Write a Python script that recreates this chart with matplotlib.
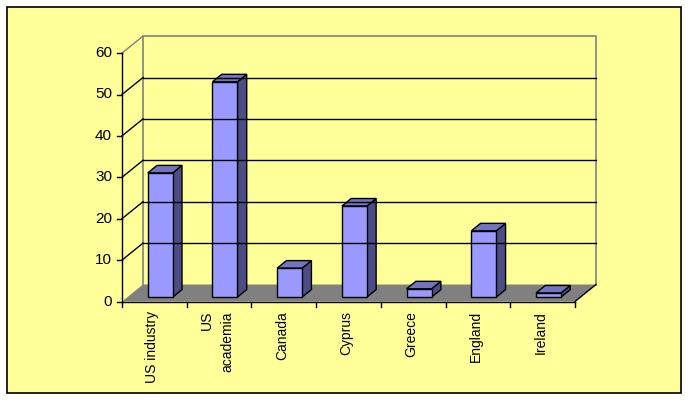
import numpy as np
import matplotlib
matplotlib.use("Agg")
import matplotlib.pyplot as plt
from matplotlib.patches import Polygon, Rectangle

plt.rcParams['font.family'] = ['Liberation Sans', 'DejaVu Sans']

# data
categories = ["US industry", "US\nacademia", "Canada", "Cyprus", "Greece", "England", "Ireland"]
values = [30, 52, 7, 22, 2, 16, 1]
yticks = [0, 10, 20, 30, 40, 50, 60]

# layout of the fake 3d box, in pixels
x0, x1 = 122, 575          # front floor edge
y0 = 301.5                 # front value 0
px_per_unit = 4.14         # 41.4 px per 10
ddx, ddy = 21, 17          # full depth offset
cat_w = (x1 - x0) / len(categories)

front_c = "#9999ff"
top_c = "#7373c0"
side_c = "#4d4d86"


def proj(x, v, d):
    """screen point for front-x, value, depth fraction"""
    return (x + ddx * d, y0 - v * px_per_unit - ddy * d)


fig = plt.figure(figsize=(6.89, 4.00), dpi=100)
ax = fig.add_axes([0, 0, 1, 1])
ax.set_xlim(0, 689)
ax.set_ylim(400, 0)
ax.axis("off")

# chart area
ax.add_patch(Rectangle((7, 7), 674, 386, facecolor="#ffff99", edgecolor="black", lw=1.2))

vmax = yticks[-1]
# back wall outline
bl = proj(x0, 0, 1)
tl = proj(x0, vmax, 1)
tr = proj(x1, vmax, 1)
br = proj(x1, 0, 1)
ax.plot([bl[0], tl[0], tr[0], br[0]], [bl[1], tl[1], tr[1], br[1]], color="#808080", lw=1.2)

# gridlines on back wall and side
for v in yticks[1:]:
    c = "#808080" if v == vmax else "black"
    a = proj(x0, v, 0)
    b = proj(x0, v, 1)
    e = proj(x1, v, 1)
    ax.plot([a[0], b[0]], [a[1], b[1]], color=c, lw=1)
    if v != vmax:
        ax.plot([b[0], e[0]], [b[1], e[1]], color=c, lw=1)

# floor
floor = [proj(x0, 0, 0), proj(x1, 0, 0), proj(x1, 0, 1), proj(x0, 0, 1)]
ax.add_patch(Polygon(floor, closed=True, facecolor="#808080", edgecolor="none"))
ax.plot([floor[1][0], floor[2][0]], [floor[1][1], floor[2][1]], color="black", lw=1)

# bars
d1, d2 = 0.26, 0.70
bw = 25
for i, v in enumerate(values):
    left = x0 + i * cat_w + 20.3
    right = left + bw
    front = [proj(left, 0, d1), proj(right, 0, d1), proj(right, v, d1), proj(left, v, d1)]
    side = [proj(right, 0, d1), proj(right, 0, d2), proj(right, v, d2), proj(right, v, d1)]
    top = [proj(left, v, d1), proj(right, v, d1), proj(right, v, d2), proj(left, v, d2)]
    for pts, col in [(side, side_c), (top, top_c), (front, front_c)]:
        ax.add_patch(Polygon(pts, closed=True, facecolor=col, edgecolor="black", lw=1, joinstyle="miter"))

# front axes
ax.plot([x0, x0], [y0, y0 - vmax * px_per_unit], color="black", lw=1)
ax.plot([x0, x1], [y0, y0], color="black", lw=1)
for v in yticks:
    y = y0 - v * px_per_unit
    ax.plot([x0 - 5, x0], [y, y], color="black", lw=1)
    ax.text(112, y, str(v), ha="right", va="center", fontsize=11)

for i in range(len(categories) + 1):
    x = x0 + i * cat_w
    ax.plot([x, x], [y0, y0 + 5], color="black", lw=1)

for i, lab in enumerate(categories):
    xc = x0 + (i + 0.5) * cat_w
    ax.text(xc - 2, 311, lab, rotation=90, ha="center", va="top",
            multialignment="right", fontsize=10, linespacing=1.6)

fig.savefig("out.png", dpi=100, facecolor="white")
